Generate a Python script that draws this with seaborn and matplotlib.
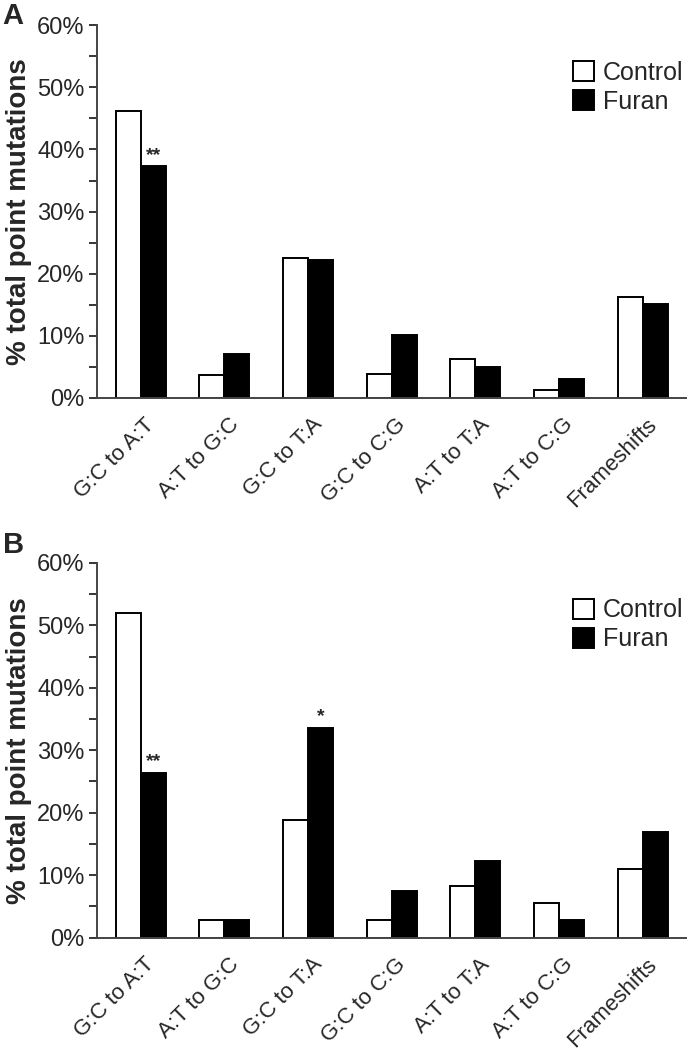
import numpy as np
import pandas as pd
import matplotlib
matplotlib.use("Agg")
import matplotlib.pyplot as plt
import matplotlib.transforms as mtransforms
import seaborn as sns
from matplotlib.ticker import MultipleLocator, PercentFormatter

categories = ["G:C to A:T", "A:T to G:C", "G:C to T:A", "G:C to C:G",
              "A:T to T:A", "A:T to C:G", "Frameshifts"]
groups = ["Control", "Furan"]

# panel A (% of total point mutations)
control_a = [46.2, 3.7, 22.6, 3.8, 6.2, 1.3, 16.3]
furan_a = [37.3, 7.1, 22.2, 10.1, 5.0, 3.1, 15.2]
# panel B
control_b = [52.0, 2.8, 18.9, 2.8, 8.2, 5.6, 11.0]
furan_b = [26.4, 2.8, 33.6, 7.5, 12.3, 2.9, 16.9]

# significance marks on the Furan bars: (category index, label)
stars_a = [(0, "**")]
stars_b = [(0, "**"), (2, "*")]

sns.set_theme(style="ticks")
plt.rcParams["font.family"] = ["Liberation Sans", "DejaVu Sans"]


def long_frame(control, furan):
    return pd.DataFrame({
        "category": categories * 2,
        "group": [groups[0]] * len(categories) + [groups[1]] * len(categories),
        "value": list(control) + list(furan),
    })


def draw_panel(fig, ax, control, furan, stars, letter, letter_y):
    df = long_frame(control, furan)
    sns.barplot(data=df, x="category", y="value", hue="group",
                order=categories, hue_order=groups,
                palette={"Control": "white", "Furan": "black"},
                edgecolor="black", linewidth=1.4, width=0.6, gap=0,
                errorbar=None, ax=ax)
    ax.set_ylim(0, 60)
    ax.set_xlim(-0.52, 6.52)
    ax.yaxis.set_major_locator(MultipleLocator(10))
    ax.yaxis.set_minor_locator(MultipleLocator(5))
    ax.yaxis.set_major_formatter(PercentFormatter(decimals=0))
    ax.tick_params(axis="y", which="major", length=6, width=1.3, labelsize=17, pad=3)
    ax.tick_params(axis="y", which="minor", length=6, width=1.3)
    ax.tick_params(axis="x", length=0, labelsize=16, pad=17)
    # nudge rotated labels so their ends sit just right of the group centre
    shift = mtransforms.ScaledTranslation(8 / 72, 0, fig.dpi_scale_trans)
    for lab in ax.get_xticklabels():
        lab.set_rotation(45)
        lab.set_ha("right")
        lab.set_va("center")
        lab.set_rotation_mode("anchor")
        lab.set_transform(lab.get_transform() + shift)
    ax.set_xlabel("")
    ax.set_ylabel("% total point mutations", fontsize=20, fontweight="bold", labelpad=4)
    for side in ["top", "right"]:
        ax.spines[side].set_visible(False)
    for side in ["left", "bottom"]:
        ax.spines[side].set_linewidth(1.4)
        ax.spines[side].set_color("#444444")

    furan_bars = ax.containers[1]
    for idx, label in stars:
        bar = furan_bars[idx]
        ax.text(bar.get_x() + bar.get_width() / 2, bar.get_height() + 0.4, label,
                ha="center", va="bottom", fontsize=14, fontweight="bold")

    leg = ax.legend(loc="upper left", bbox_to_anchor=(0.808, 0.905), frameon=False,
                    fontsize=18, handlelength=0.85, handleheight=0.85,
                    handletextpad=0.35, labelspacing=0.2, borderaxespad=0,
                    borderpad=0)
    for h in leg.legend_handles:
        h.set_edgecolor("black")
        h.set_linewidth(1.4)

    fig.text(0.004, letter_y, letter, fontsize=21, fontweight="bold",
             ha="left", va="center")


fig = plt.figure(figsize=(6.89, 10.5), dpi=100)
ax_a = fig.add_axes([0.141, 0.621, 0.855, 0.355])
ax_b = fig.add_axes([0.141, 0.107, 0.855, 0.357])

draw_panel(fig, ax_a, control_a, furan_a, stars_a, "A", 1 - 16 / 1050)
draw_panel(fig, ax_b, control_b, furan_b, stars_b, "B", 1 - 545 / 1050)

fig.savefig("out.png", dpi=100)
